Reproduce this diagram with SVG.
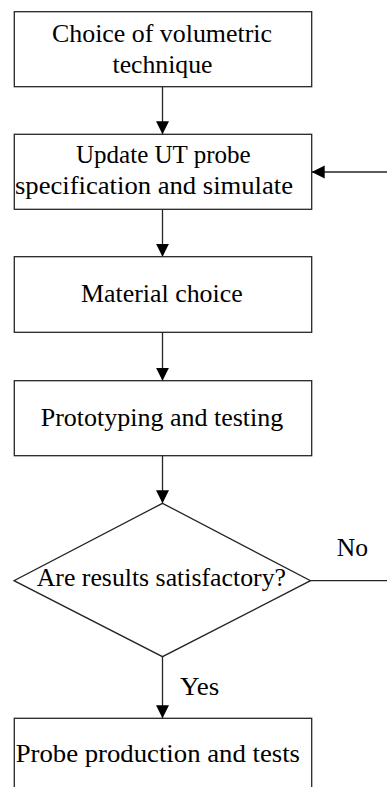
<svg xmlns="http://www.w3.org/2000/svg" width="387" height="787" viewBox="0 0 387 787">
  <defs>
    <marker id="arrow" markerUnits="userSpaceOnUse" markerWidth="14" markerHeight="14" refX="13" refY="6.5" orient="auto">
      <path d="M0,0 L13,6.5 L0,13 Z" fill="#000"/>
    </marker>
    <style>
      .box { fill: #fff; stroke: #262626; stroke-width: 1.3; }
      .lbl { font-family: "Liberation Serif", "Times New Roman", serif; font-size: 26px; fill: #000; }
      .conn { fill: none; stroke: #262626; stroke-width: 1.3; }
    </style>
  </defs>
  <rect width="387" height="787" fill="#fff"/>

  <g id="connectors">
    <line class="conn" x1="162.5" y1="86.7" x2="162.5" y2="134.3" marker-end="url(#arrow)"/>
    <line class="conn" x1="162.5" y1="209.3" x2="162.5" y2="256.7" marker-end="url(#arrow)"/>
    <line class="conn" x1="162.5" y1="332.3" x2="162.5" y2="380.7" marker-end="url(#arrow)"/>
    <line class="conn" x1="162.5" y1="455.7" x2="162.5" y2="503.3" marker-end="url(#arrow)"/>
    <line class="conn" x1="162.5" y1="656.7" x2="162.5" y2="718.3" marker-end="url(#arrow)"/>
    <path class="conn" d="M310.5,580.7 H392 V172 H311.7" marker-end="url(#arrow)"/>
    <text class="lbl" x="336.7" y="555.7" textLength="31.3" lengthAdjust="spacingAndGlyphs">No</text>
    <text class="lbl" x="180" y="695" textLength="39.3" lengthAdjust="spacingAndGlyphs">Yes</text>
  </g>

  <g id="n1">
    <rect class="box" x="14.3" y="11.7" width="297.4" height="75"/>
    <text class="lbl" x="52" y="41.7" textLength="220" lengthAdjust="spacingAndGlyphs">Choice of volumetric</text>
    <text class="lbl" x="112.5" y="73.3" textLength="100" lengthAdjust="spacingAndGlyphs">technique</text>
  </g>

  <g id="n2">
    <rect class="box" x="14.3" y="134.3" width="297.4" height="75"/>
    <text class="lbl" x="76" y="162.7" textLength="174.7" lengthAdjust="spacingAndGlyphs">Update UT probe</text>
    <text class="lbl" x="15" y="193.8" textLength="278" lengthAdjust="spacingAndGlyphs">specification and simulate</text>
  </g>

  <g id="n3">
    <rect class="box" x="14.3" y="256.7" width="297.4" height="75.6"/>
    <text class="lbl" x="81" y="302.3" textLength="161.7" lengthAdjust="spacingAndGlyphs">Material choice</text>
  </g>

  <g id="n4">
    <rect class="box" x="14.3" y="380.7" width="297.4" height="75"/>
    <text class="lbl" x="40.7" y="425.7" textLength="242.6" lengthAdjust="spacingAndGlyphs">Prototyping and testing</text>
  </g>

  <g id="n5">
    <polygon class="box" points="162.5,503.3 310.5,580.7 162.5,656.7 14,580.7"/>
    <text class="lbl" x="36.7" y="586" textLength="249.3" lengthAdjust="spacingAndGlyphs">Are results satisfactory?</text>
  </g>

  <g id="n6">
    <rect class="box" x="14.3" y="718.3" width="297.4" height="80"/>
    <text class="lbl" x="15.7" y="761.7" textLength="284.3" lengthAdjust="spacingAndGlyphs">Probe production and tests</text>
  </g>
</svg>
